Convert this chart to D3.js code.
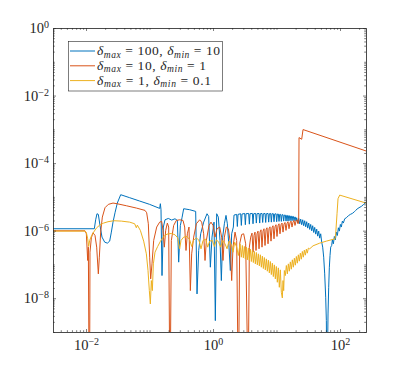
<!DOCTYPE html>
<html><head><meta charset="utf-8">
<script src="https://cdn.jsdelivr.net/npm/d3@7"></script>
<style>
body{margin:0;background:#fff}
svg{display:block}
svg text{font-family:'Liberation Serif','DejaVu Serif',serif !important;fill:#262626}
</style></head>
<body><svg id="c" width="405" height="373"></svg>
<script>
// ---------- data ----------
const seriesNames = ["delta_max=100, delta_min=10", "delta_max=10, delta_min=1", "delta_max=1, delta_min=0.1"];
const deltaMax = ["100", "10", "1"];
const deltaMin = ["10", "1", "0.1"];
const xMajorTicks = [1e-2, 1, 1e2];
const yMajorTicks = [1e-8, 1e-6, 1e-4, 1e-2, 1];
const xDomain = [0.00302, 256.6];
const yDomain = [1e-9, 1];

const blueX = [0.00302,0.01352,0.01419,0.01489,0.01563,0.0166,0.01786,0.01968,0.02168,0.02358,0.02506,0.02661,0.02861,0.03112,0.03516,0.04869,0.06998,0.1006,0.1445,0.1481,0.1517,0.1573,0.1651,0.1754,0.1979,0.2234,0.2520,0.2744,0.2879,0.3059,0.3249,0.3451,0.4290,0.5333,0.5598,0.5945,0.6395,0.7129,0.8045,0.8546,0.9078,0.9644,1.037,1.088,1.142,1.213,1.289,1.353,1.420,1.509,1.602,1.682,1.786,1.875,1.968,
2.090,2.141,2.359,2.417,2.476,2.728,2.794,2.863,3.153,3.230,3.309,3.645,3.735,3.826,4.165,4.266,4.371,4.699,4.814,4.932,5.302,5.433,5.566,5.911,6.056,6.204,6.592,6.753,6.918,7.349,7.529,7.714,8.096,8.294,8.497,8.917,9.135,9.359,9.823,10.06,10.31,10.69,10.95,11.22,11.63,11.92,12.21,12.66,12.97,13.29,13.78,14.12,14.47,14.82,15.18,15.55,15.93,16.32,16.72,17.13,17.55,17.97,18.42,18.87,19.33,19.80,20.29,
20.78,21.55,22.35,23.17,24.03,24.92,25.84,26.79,27.78,28.81,29.87,30.97,32.12,33.31,34.54,35.81,37.14,38.51,39.93,41.40,42.93,44.52,46.16,47.86,49.64,51.46,
53.36,55.34,57.38,59.50,60.95,61.69,63.20,64.75,66.33,67.95,69.61,71.31,
73.96,75.77,78.57,81.47,84.48,87.60,90.83,94.19,97.67,101.3,105.0,108.9,112.9,118.5,125.9,135.4,145.5,156.4,168.3,176.6,185.4,199.3,216.9,236.0,256.9];
const blueY = [1.14e-6,1.14e-6,2.10e-6,3.17e-6,3.03e-6,1.43e-6,6.44e-7,4.57e-7,4.27e-7,4.90e-7,9.06e-7,1.79e-6,3.39e-6,6.57e-6,1.16e-5,9.46e-6,7.53e-6,6.00e-6,4.56e-6,6.28e-6,4.17e-6,4.69e-8,1.28e-6,2.10e-6,2.30e-6,2.06e-6,2.25e-6,2.01e-6,1.17e-7,1.43e-6,2.41e-6,4.46e-6,4.17e-6,3.72e-6,1.34e-8,2.59e-7,8.08e-7,1.79e-6,3.17e-6,2.64e-6,8.29e-8,6.44e-7,1.79e-6,2.17e-9,3.17e-6,2.52e-6,5.13e-7,3.33e-8,6.44e-7,1.60e-6,2.83e-6,1.60e-6,3.25e-7,6.60e-8,8.08e-7,
1.28e-6,2.89e-6,3.03e-6,1.33e-6,3.03e-6,3.17e-6,1.43e-6,3.10e-6,3.24e-6,1.50e-6,3.17e-6,3.24e-6,1.56e-6,3.17e-6,3.24e-6,1.60e-6,3.17e-6,3.24e-6,1.68e-6,3.17e-6,3.24e-6,1.68e-6,3.17e-6,3.24e-6,1.75e-6,3.17e-6,3.24e-6,1.75e-6,3.17e-6,3.24e-6,1.79e-6,3.17e-6,3.24e-6,1.79e-6,3.17e-6,3.17e-6,1.84e-6,3.10e-6,3.17e-6,1.84e-6,3.10e-6,3.10e-6,1.88e-6,3.03e-6,3.03e-6,1.88e-6,2.96e-6,2.96e-6,1.92e-6,2.89e-6,2.89e-6,1.92e-6,2.83e-6,2.83e-6,1.92e-6,2.77e-6,2.77e-6,1.97e-6,2.70e-6,2.70e-6,1.97e-6,2.64e-6,2.64e-6,1.97e-6,2.52e-6,2.52e-6,1.92e-6,
2.41e-6,1.68e-6,2.30e-6,1.60e-6,2.20e-6,1.50e-6,2.10e-6,1.40e-6,1.97e-6,1.30e-6,1.84e-6,1.19e-6,1.68e-6,1.09e-6,1.53e-6,9.92e-7,1.40e-6,8.86e-7,1.25e-6,7.90e-7,1.11e-6,6.89e-7,9.70e-7,6.01e-7,8.08e-7,4.57e-7,
3.25e-7,1.64e-7,5.26e-8,1.07e-8,2.17e-9,1e-10,1e-10,3.42e-9,2.11e-8,8.29e-8,1.84e-7,3.25e-7,
3.64e-7,5.37e-7,4.08e-7,6.74e-7,5.37e-7,9.06e-7,7.21e-7,1.22e-6,9.70e-7,1.53e-6,1.28e-6,1.92e-6,1.68e-6,2.25e-6,2.41e-6,2.77e-6,3.03e-6,3.24e-6,3.63e-6,3.98e-6,4.36e-6,4.78e-6,5.23e-6,6.00e-6,6.88e-6];

const redX = [0.00302,0.00964,0.01012,0.01062,0.01088,0.01114,0.01141,0.01155,0.01213,0.01288,0.01385,0.01472,0.01563,0.01621,0.01702,0.01807,0.01991,0.02245,0.02661,0.03076,0.04315,0.06202,0.08492,0.09021,0.09583,0.1006,0.1043,0.1094,0.1163,0.1297,0.1445,0.1554,0.1631,0.1712,0.1797,0.1909,0.2003,0.2077,0.2128,0.2207,0.2402,0.2645,0.2985,0.3369,0.3579,0.3756,0.3943,0.4188,0.4395,0.4613,0.4960,0.5464,0.6166,0.6630,0.7129,0.7482,0.7852,0.8650,0.9300,1.0,1.075,1.156,1.274,1.369,1.437,1.509,1.622,1.744,1.853,1.968,2.065,2.221,2.359,2.476,2.536,2.630,2.828,3.041,3.269,3.516,3.601,3.735,3.920,4.115,
4.266,4.423,4.587,4.756,4.932,5.114,5.302,5.498,5.701,5.911,6.130,6.356,6.591,6.834,7.086,7.348,7.619,7.900,8.191,8.494,8.808,9.133,9.470,9.820,10.18,10.56,10.95,11.35,11.77,12.21,12.66,13.12,13.61,14.11,14.63,15.17,15.73,16.31,16.91,17.54,18.19,18.86,19.55,20.28,21.03,21.80,22.35,
22.62,24.92,26.16,256.9];
const redY = [9.92e-7,9.92e-7,8.08e-7,1.31e-7,3.25e-7,1e-10,1e-10,2.31e-7,6.15e-7,8.66e-7,7.21e-7,3.25e-7,5.26e-8,1.64e-7,9.06e-7,2.52e-6,4.78e-6,6.00e-6,6.57e-6,6.28e-6,5.47e-6,4.67e-6,3.98e-6,3.39e-6,1.60e-6,1.64e-7,3.74e-8,1.04e-7,5.13e-7,1.28e-6,1.79e-6,1.88e-6,1.02e-6,3.25e-7,1.02e-6,1.68e-6,1.28e-6,1e-10,1e-10,5.13e-7,1.43e-6,2.01e-6,2.10e-6,2.01e-6,1.28e-6,2.59e-7,8.08e-7,1.28e-6,1.68e-8,2.06e-7,6.44e-7,1.60e-6,2.10e-6,1.79e-6,8.08e-7,1.31e-7,5.13e-7,1.43e-6,1.79e-6,1.43e-6,6.44e-7,1.14e-6,1.28e-6,6.44e-7,1.31e-7,6.44e-7,1.28e-6,1.14e-6,5.13e-7,3.33e-8,3.25e-7,9.06e-7,5.13e-7,1e-10,1e-10,4.08e-7,7.72e-7,8.08e-7,4.08e-7,1e-10,1e-10,3.25e-7,6.44e-7,8.46e-7,
2.31e-7,7.21e-7,9.06e-7,2.59e-7,8.08e-7,9.70e-7,2.90e-7,9.06e-7,1.06e-6,3.25e-7,9.70e-7,1.14e-6,3.64e-7,1.06e-6,1.22e-6,4.08e-7,1.14e-6,1.30e-6,4.90e-7,1.22e-6,1.40e-6,5.74e-7,1.30e-6,1.50e-6,6.74e-7,1.40e-6,1.60e-6,8.08e-7,1.50e-6,1.68e-6,9.06e-7,1.56e-6,1.75e-6,1.02e-6,1.64e-6,1.84e-6,1.14e-6,1.71e-6,1.92e-6,1.28e-6,1.79e-6,2.01e-6,1.43e-6,1.92e-6,2.10e-6,1.60e-6,1.79e-6,
5.70e-4,5.08e-4,9.84e-4,2.29e-4];

const yellowX = [0.00302,0.00964,0.01012,0.01062,0.01101,0.01141,0.01227,0.0132,0.01454,0.01641,0.01897,0.02219,0.02725,0.03598,0.04869,0.05836,0.06202,0.06431,0.07171,0.08091,0.08913,0.09468,0.09937,0.1030,0.1069,0.1108,0.1149,0.1221,0.1344,0.1481,0.1671,0.1886,0.2207,0.2520,0.2777,0.2985,0.3133,0.3451,0.3896,0.4290,0.4613,0.4900,0.5464,0.6019,0.6471,0.6961,0.7666,0.8241,0.8861,0.9761,1.050,1.129,1.228,1.320,1.420,1.545,1.662,1.786,1.945,2.065,2.194,2.359,2.506,2.662,
2.794,2.897,3.004,3.115,3.230,3.349,3.473,3.601,3.734,3.872,4.015,4.163,4.317,4.476,4.641,4.813,4.990,5.175,5.366,5.564,5.769,5.982,6.203,6.432,6.669,6.916,7.171,7.436,7.710,7.995,8.290,8.596,8.913,9.242,9.583,9.937,10.30,10.68,11.08,11.49,11.91,12.35,12.66,12.97,13.29,
13.78,14.29,14.82,15.36,15.93,16.52,17.13,17.76,18.42,19.10,19.80,20.53,21.29,22.07,22.89,23.73,24.61,25.52,26.46,27.43,28.45,29.50,30.58,31.71,33.31,37.58,47.86,60.95,83.47,85.51,89.74,93.06,98.86,256.9];
const yellowY = [9.70e-7,9.70e-7,8.86e-7,5.74e-7,3.40e-7,5.13e-7,7.21e-7,9.06e-7,1.19e-6,1.46e-6,1.68e-6,1.84e-6,1.97e-6,1.92e-6,1.79e-6,1.60e-6,1.22e-6,1.46e-6,1.02e-6,4.90e-7,2.06e-7,6.60e-8,1.68e-8,6.77e-9,3.33e-8,1.68e-8,1.04e-7,2.31e-7,3.40e-7,4.79e-7,6.74e-7,7.90e-7,8.27e-7,7.55e-7,6.15e-7,2.90e-7,5.13e-7,6.44e-7,6.74e-7,5.37e-7,3.40e-7,5.13e-7,6.15e-7,5.13e-7,2.90e-7,5.13e-7,5.62e-7,3.25e-7,4.90e-7,5.13e-7,3.40e-7,5.37e-7,4.57e-7,3.25e-7,5.13e-7,4.08e-7,2.90e-7,4.90e-7,3.90e-7,2.31e-7,4.57e-7,3.25e-7,1.84e-7,4.08e-7,
1.64e-7,3.64e-7,1.57e-7,3.40e-7,1.46e-7,3.25e-7,1.37e-7,3.04e-7,1.31e-7,2.84e-7,1.22e-7,2.59e-7,1.14e-7,2.42e-7,1.04e-7,2.26e-7,9.72e-8,2.06e-7,9.08e-8,1.93e-7,8.29e-8,1.76e-7,7.57e-8,1.60e-7,6.91e-8,1.46e-7,6.31e-8,1.34e-7,5.63e-8,1.22e-7,5.02e-8,1.09e-7,4.38e-8,9.72e-8,3.74e-8,8.68e-8,2.97e-8,7.92e-8,2.11e-8,6.91e-8,1.50e-8,1.02e-8,3.33e-8,1.68e-8,6.60e-8,
4.69e-8,9.29e-8,5.26e-8,1.04e-7,6.31e-8,1.19e-7,7.23e-8,1.37e-7,8.29e-8,1.53e-7,9.50e-8,1.72e-7,1.09e-7,1.93e-7,1.25e-7,2.16e-7,1.43e-7,2.42e-7,1.64e-7,2.65e-7,1.88e-7,2.84e-7,2.16e-7,3.04e-7,2.90e-7,3.56e-7,4.27e-7,4.90e-7,5.74e-7,8.08e-7,3.17e-6,8.83e-6,1.13e-5,6.57e-6];

const seriesColors = ["#0072BD", "#D95319", "#EDB120"];

// ---------- layout ----------
const FONT = "'Liberation Serif','DejaVu Serif',serif";
const L = 53, R = 366, T = 28, B = 332;
const svg = d3.select("#c");
svg.append("rect").attr("width", 405).attr("height", 373).attr("fill", "#fff");

const x = d3.scaleLog().domain(xDomain).range([L, R]);
const y = d3.scaleLog().domain(yDomain).range([B, T]);

svg.append("defs").append("clipPath").attr("id", "clip")
  .append("rect").attr("x", L).attr("y", T).attr("width", R - L).attr("height", B - T);

const series = [
  {name: seriesNames[0], xs: blueX, ys: blueY, color: seriesColors[0]},
  {name: seriesNames[1], xs: redX, ys: redY, color: seriesColors[1]},
  {name: seriesNames[2], xs: yellowX, ys: yellowY, color: seriesColors[2]}
];

const line = d3.line().x(d => x(d[0])).y(d => y(d[1]));
const plot = svg.append("g").attr("clip-path", "url(#clip)");
series.forEach(s => {
  const pts = s.xs.map((v, i) => [v, s.ys[i]]);
  plot.append("path").datum(pts).attr("d", line)
    .attr("fill", "none").attr("stroke", s.color).attr("stroke-width", 1)
    .attr("stroke-linejoin", "round");
});

// ---------- axes ----------
const xMinor = x.ticks().filter(v => !xMajorTicks.some(m => Math.abs(m - v) / m < 1e-6));
const yMinor = y.ticks().filter(v => !yMajorTicks.some(m => Math.abs(m - v) / m < 1e-6));

function supLabels(g) {
  g.selectAll(".tick text").each(function(d) {
    const e = Math.round(Math.log10(d));
    const t = d3.select(this);
    t.text(null).attr("font-family", FONT).attr("font-size", 14.5);
    t.append("tspan").text("10");
    t.append("tspan").attr("dy", "-0.5em").attr("font-size", "10px")
      .text(e < 0 ? "\u2212" + (-e) : String(e));
  });
}
function styleAxis(g) {
  g.selectAll(".domain").attr("stroke", "#262626").attr("stroke-width", 0.6);
  g.selectAll(".tick line").attr("stroke", "#262626").attr("stroke-width", 0.6);
  g.attr("font-family", FONT).attr("font-size", 14.5);
  g.selectAll("text").attr("fill", "#262626");
}
const noFmt = () => "";

svg.append("g").attr("transform", `translate(0,${B})`)
  .call(d3.axisBottom(x).tickValues(xMinor).tickSizeInner(-1.8).tickSizeOuter(0).tickFormat(noFmt))
  .call(styleAxis);
svg.append("g").attr("transform", `translate(0,${B})`)
  .call(d3.axisBottom(x).tickValues(xMajorTicks).tickSizeInner(-3).tickSizeOuter(0).tickPadding(8))
  .call(supLabels).call(styleAxis);
svg.append("g").attr("transform", `translate(0,${T})`)
  .call(d3.axisTop(x).tickValues(xMinor).tickSizeInner(-1.8).tickSizeOuter(0).tickFormat(noFmt))
  .call(styleAxis);
svg.append("g").attr("transform", `translate(0,${T})`)
  .call(d3.axisTop(x).tickValues(xMajorTicks).tickSizeInner(-3).tickSizeOuter(0).tickFormat(noFmt))
  .call(styleAxis);

svg.append("g").attr("transform", `translate(${L},0)`)
  .call(d3.axisLeft(y).tickValues(yMinor).tickSizeInner(-1.8).tickSizeOuter(0).tickFormat(noFmt))
  .call(styleAxis);
svg.append("g").attr("transform", `translate(${L},0)`)
  .call(d3.axisLeft(y).tickValues(yMajorTicks).tickSizeInner(-3).tickSizeOuter(0).tickPadding(4))
  .call(supLabels).call(styleAxis);
svg.append("g").attr("transform", `translate(${R},0)`)
  .call(d3.axisRight(y).tickValues(yMinor).tickSizeInner(-1.8).tickSizeOuter(0).tickFormat(noFmt))
  .call(styleAxis);
svg.append("g").attr("transform", `translate(${R},0)`)
  .call(d3.axisRight(y).tickValues(yMajorTicks).tickSizeInner(-3).tickSizeOuter(0).tickFormat(noFmt))
  .call(styleAxis);

// ---------- legend ----------
const legendTextWidths = [123, 109, 114];
const lg = svg.append("g");
lg.append("rect").attr("x", 68.5).attr("y", 41.5).attr("width", 154).attr("height", 49.5)
  .attr("fill", "#fff").attr("stroke", "#262626").attr("stroke-width", 0.6);
series.forEach((s, i) => {
  const cy = 51 + i * 14.8;
  lg.append("line").attr("x1", 70).attr("x2", 95).attr("y1", cy).attr("y2", cy)
    .attr("stroke", s.color).attr("stroke-width", 1);
  const t = lg.append("text").attr("x", 97).attr("y", cy + 4)
    .attr("font-family", FONT).attr("font-size", 13.5).style("white-space", "pre")
    .attr("textLength", legendTextWidths[i]).attr("lengthAdjust", "spacing");
  t.append("tspan").attr("font-style", "italic").text("\u03B4");
  t.append("tspan").attr("font-style", "italic").attr("font-size", "9.5px").attr("dy", 2.5).text("max");
  t.append("tspan").attr("dy", -2.5).text(" = " + deltaMax[i] + ", ");
  t.append("tspan").attr("font-style", "italic").text("\u03B4");
  t.append("tspan").attr("font-style", "italic").attr("font-size", "9.5px").attr("dy", 2.5).text("min");
  t.append("tspan").attr("dy", -2.5).text(" = " + deltaMin[i]);
});
</script></body></html>
